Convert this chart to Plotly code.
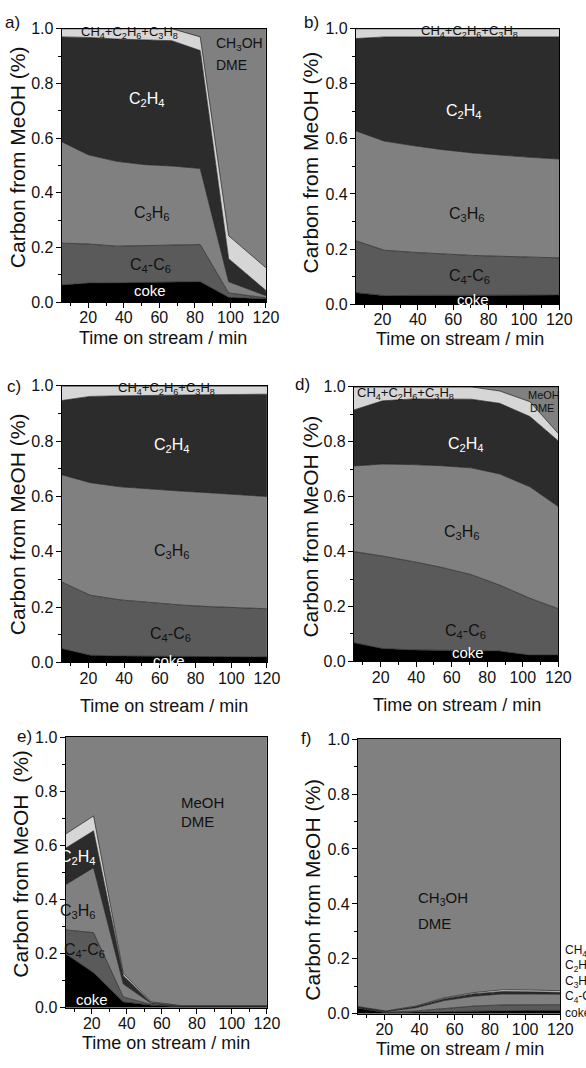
import plotly.graph_objects as go

W, H = 586, 1068

# ---------------- data (fractions of carbon, per component) ----------------
time_a = [5, 20, 36, 52, 67, 83, 99, 120]
time_all = [5, 21, 38, 54, 71, 87, 104, 120]

components = ["coke", "C4-C6", "C3H6", "C2H4", "CH4+C2H6+C3H8", "MeOH/DME"]

a_coke  = [0.063, 0.070, 0.071, 0.073, 0.074, 0.075, 0.018, 0.012]
a_c4c6  = [0.153, 0.143, 0.134, 0.134, 0.135, 0.136, 0.016, 0.004]
a_c3h6  = [0.371, 0.326, 0.310, 0.296, 0.289, 0.278, 0.041, 0.008]
a_c2h4  = [0.383, 0.429, 0.447, 0.455, 0.458, 0.431, 0.084, 0.019]
a_light = [0.030, 0.032, 0.038, 0.042, 0.044, 0.050, 0.084, 0.083]
a_meoh  = [0.000, 0.000, 0.000, 0.000, 0.000, 0.030, 0.757, 0.874]

b_coke  = [0.042, 0.031, 0.032, 0.032, 0.033, 0.033, 0.033, 0.033]
b_c4c6  = [0.188, 0.165, 0.156, 0.150, 0.144, 0.141, 0.138, 0.135]
b_c3h6  = [0.399, 0.396, 0.387, 0.379, 0.372, 0.366, 0.362, 0.359]
b_c2h4  = [0.335, 0.378, 0.395, 0.409, 0.421, 0.430, 0.437, 0.443]
b_light = [0.036, 0.030, 0.030, 0.030, 0.030, 0.030, 0.030, 0.030]
b_meoh  = [0.0, 0.0, 0.0, 0.0, 0.0, 0.0, 0.0, 0.0]

c_coke  = [0.050, 0.026, 0.023, 0.022, 0.021, 0.020, 0.020, 0.020]
c_c4c6  = [0.241, 0.217, 0.203, 0.195, 0.187, 0.182, 0.178, 0.174]
c_c3h6  = [0.388, 0.407, 0.409, 0.410, 0.412, 0.412, 0.409, 0.406]
c_c2h4  = [0.268, 0.312, 0.329, 0.339, 0.347, 0.354, 0.362, 0.370]
c_light = [0.053, 0.038, 0.036, 0.034, 0.033, 0.032, 0.031, 0.030]
c_meoh  = [0.0, 0.0, 0.0, 0.0, 0.0, 0.0, 0.0, 0.0]

d_coke  = [0.068, 0.047, 0.042, 0.041, 0.041, 0.038, 0.023, 0.023]
d_c4c6  = [0.332, 0.337, 0.322, 0.302, 0.275, 0.240, 0.207, 0.169]
d_c3h6  = [0.312, 0.335, 0.353, 0.370, 0.389, 0.405, 0.406, 0.372]
d_c2h4  = [0.204, 0.230, 0.239, 0.243, 0.250, 0.257, 0.256, 0.239]
d_light = [0.084, 0.051, 0.044, 0.044, 0.045, 0.045, 0.054, 0.027]
d_meoh  = [0.000, 0.000, 0.000, 0.000, 0.000, 0.015, 0.054, 0.170]

e_coke  = [0.200, 0.130, 0.022, 0.010, 0.004, 0.004, 0.004, 0.004]
e_c4c6  = [0.088, 0.148, 0.018, 0.002, 0.001, 0.001, 0.001, 0.001]
e_c3h6  = [0.167, 0.240, 0.048, 0.004, 0.001, 0.001, 0.001, 0.001]
e_c2h4  = [0.135, 0.136, 0.031, 0.003, 0.001, 0.001, 0.001, 0.001]
e_light = [0.052, 0.055, 0.008, 0.003, 0.001, 0.001, 0.001, 0.001]
e_meoh  = [0.358, 0.291, 0.873, 0.978, 0.992, 0.992, 0.992, 0.992]

f_coke  = [0.020, 0.004, 0.006, 0.008, 0.010, 0.012, 0.012, 0.012]
f_c4c6  = [0.002, 0.002, 0.004, 0.012, 0.018, 0.020, 0.020, 0.021]
f_c3h6  = [0.001, 0.002, 0.012, 0.028, 0.036, 0.040, 0.040, 0.038]
f_c2h4  = [0.002, 0.001, 0.004, 0.007, 0.009, 0.009, 0.008, 0.007]
f_light = [0.001, 0.001, 0.002, 0.003, 0.004, 0.006, 0.006, 0.006]
f_meoh  = [0.974, 0.990, 0.972, 0.942, 0.923, 0.913, 0.914, 0.916]

x_ticks = [20, 40, 60, 80, 100, 120]
y_ticks = [0.0, 0.2, 0.4, 0.6, 0.8, 1.0]

# ---------------- style ----------------
colors = ["#000000", "#5a5a5a", "#808080", "#2c2c2c", "#d6d6d6", "#808080"]
FONT = "Arial, Liberation Sans, sans-serif"

panels = [
    ("a", time_a,   [a_coke, a_c4c6, a_c3h6, a_c2h4, a_light, a_meoh], (63, 272), (21, 299)),
    ("b", time_all, [b_coke, b_c4c6, b_c3h6, b_c2h4, b_light, b_meoh], (364, 572), (21, 301)),
    ("c", time_all, [c_coke, c_c4c6, c_c3h6, c_c2h4, c_light, c_meoh], (63, 273), (384, 665)),
    ("d", time_all, [d_coke, d_c4c6, d_c3h6, d_c2h4, d_light, d_meoh], (362, 571), (385, 664)),
    ("e", time_all, [e_coke, e_c4c6, e_c3h6, e_c2h4, e_light, e_meoh], (67, 273), (741, 1016)),
    ("f", time_all, [f_coke, f_c4c6, f_c3h6, f_c2h4, f_light, f_meoh], (366, 573), (743, 1022)),
]

fig = go.Figure()
layout = {}
annotations = []

def px_x(p):
    return p / W

def px_y(p):
    return 1 - p / H

for i, (name, t, series, (l, r), (tp, bt)) in enumerate(panels):
    k = "" if i == 0 else str(i + 1)
    for comp, vals, col in zip(components, series, colors):
        fig.add_trace(go.Scatter(
            x=t, y=vals, name=comp, mode="lines", stackgroup=name,
            line=dict(color="#1e1e1e", width=0.7), fillcolor=col,
            xaxis="x" + k, yaxis="y" + k, showlegend=False, hoverinfo="skip"))
    common = dict(showline=True, linecolor="black", linewidth=1, mirror=True,
                  ticks="outside", tickcolor="black", ticklen=5, tickwidth=1,
                  showgrid=False, zeroline=False,
                  tickfont=dict(family=FONT, size=16, color="#111"))
    layout["xaxis" + k] = dict(common, domain=[px_x(l), px_x(r)], range=[5, 120],
                               tickvals=x_ticks, anchor="y" + k, ticklabelstandoff=-4,
                               minor=dict(ticks="outside", ticklen=3, dtick=10, tick0=0,
                                          tickcolor="black"))
    layout["yaxis" + k] = dict(common, domain=[px_y(bt), px_y(tp)], range=[0, 1],
                               tickvals=y_ticks, tickformat=".1f", anchor="x" + k,
                               ticklabelstandoff=-1,
                               minor=dict(ticks="outside", ticklen=3, dtick=0.1, tick0=0,
                                          tickcolor="black"))

def pann(text, x, y, size, angle=0, xanchor="center"):
    annotations.append(dict(text=text, x=px_x(x), y=px_y(y), xref="paper", yref="paper",
                            showarrow=False, textangle=angle, xanchor=xanchor,
                            yanchor="middle", font=dict(family=FONT, size=size, color="#111")))

# panel letters
for txt, x, y in [("a)", 3, 15), ("b)", 309, 15), ("c)", 5, 385), ("d)", 300, 383),
                  ("e)", 15, 740), ("f)", 306, 742)]:
    pann(txt, x, y, 17, xanchor="left")

# axis titles
xt = "Time on stream / min"
for x, y in [(167, 335), (470, 336), (168, 709), (467, 708), (170, 1052), (470, 1058)]:
    pann(xt, x, y, 18)
yt = "Carbon from MeOH (%)"
for x, y, t in [(18, 152, yt), (318, 157, yt), (18, 525, yt), (318, 527, yt),
                (21, 870, "Carbon from MeOH  (%)"), (320, 896, yt)]:
    pann(t, x, y, 21, angle=-90)

ALK = "CH<sub>4</sub>+C<sub>2</sub>H<sub>6</sub>+C<sub>3</sub>H<sub>8</sub>"
C2 = "C<sub>2</sub>H<sub>4</sub>"
C3 = "C<sub>3</sub>H<sub>6</sub>"
C4 = "C<sub>4</sub>-C<sub>6</sub>"
WH, BK = "#ffffff", "#111111"

labels = {
    "": [(ALK, 43, 0.987, 13, BK, "center"), (C2, 53, 0.74, 16, WH, "center"),
         (C3, 56, 0.325, 16, BK, "center"), (C4, 55, 0.135, 16, BK, "center"),
         ("coke", 55, 0.043, 15, WH, "center"),
         ("CH<sub>3</sub>OH", 91, 0.945, 14, BK, "left"), ("DME", 91, 0.866, 14, BK, "left")],
    "2": [(ALK, 69, 0.988, 13, BK, "center"), (C2, 66, 0.70, 16, WH, "center"),
          (C3, 68, 0.327, 16, BK, "center"), (C4, 69, 0.10, 16, BK, "center"),
          ("coke", 71, 0.018, 15, WH, "center")],
    "3": [(ALK, 64, 0.992, 13, BK, "center"), (C2, 67, 0.784, 16, WH, "center"),
          (C3, 67, 0.40, 16, BK, "center"), (C4, 66, 0.10, 16, BK, "center"),
          ("coke", 65, 0.008, 15, WH, "center")],
    "4": [(ALK, 34, 0.976, 13, BK, "center"), (C2, 68, 0.79, 16, WH, "center"),
          (C3, 66, 0.468, 16, BK, "center"), (C4, 68, 0.11, 16, BK, "center"),
          ("coke", 69, 0.032, 15, WH, "center"),
          ("MeOH", 112, 0.97, 11, BK, "center"), ("DME", 111, 0.922, 11, BK, "center")],
    "5": [("MeOH", 70, 0.76, 15, BK, "left"), ("DME", 70, 0.69, 15, BK, "left"),
          (C2, 12, 0.555, 16, WH, "center"), (C3, 12, 0.355, 16, BK, "center"),
          (C4, 16, 0.213, 16, BK, "center"), ("coke", 20, 0.031, 15, WH, "center")],
    "6": [("CH<sub>3</sub>OH", 38, 0.42, 15, BK, "left"), ("DME", 38, 0.33, 15, BK, "left")],
}
for k, items in labels.items():
    for text, x, y, size, col, xa in items:
        annotations.append(dict(text=text, x=x, y=y, xref="x" + k, yref="y" + k,
                                showarrow=False, xanchor=xa, yanchor="middle",
                                font=dict(family=FONT, size=size, color=col)))

# labels to the right of panel f (cut by the page edge, as in the original)
for text, y in [(ALK, 958), (C2, 973), (C3, 990), (C4, 1005), ("coke", 1021)]:
    annotations.append(dict(text=text, x=px_x(576), y=px_y(y), xref="paper", yref="paper",
                            showarrow=False, xanchor="left", yanchor="middle",
                            font=dict(family=FONT, size=12, color=BK)))

fig.update_layout(**layout)
fig.update_layout(width=W, height=H, margin=dict(l=0, r=0, t=0, b=0),
                  paper_bgcolor="white", plot_bgcolor="white",
                  annotations=annotations, showlegend=False)

fig.write_html("out.html")
